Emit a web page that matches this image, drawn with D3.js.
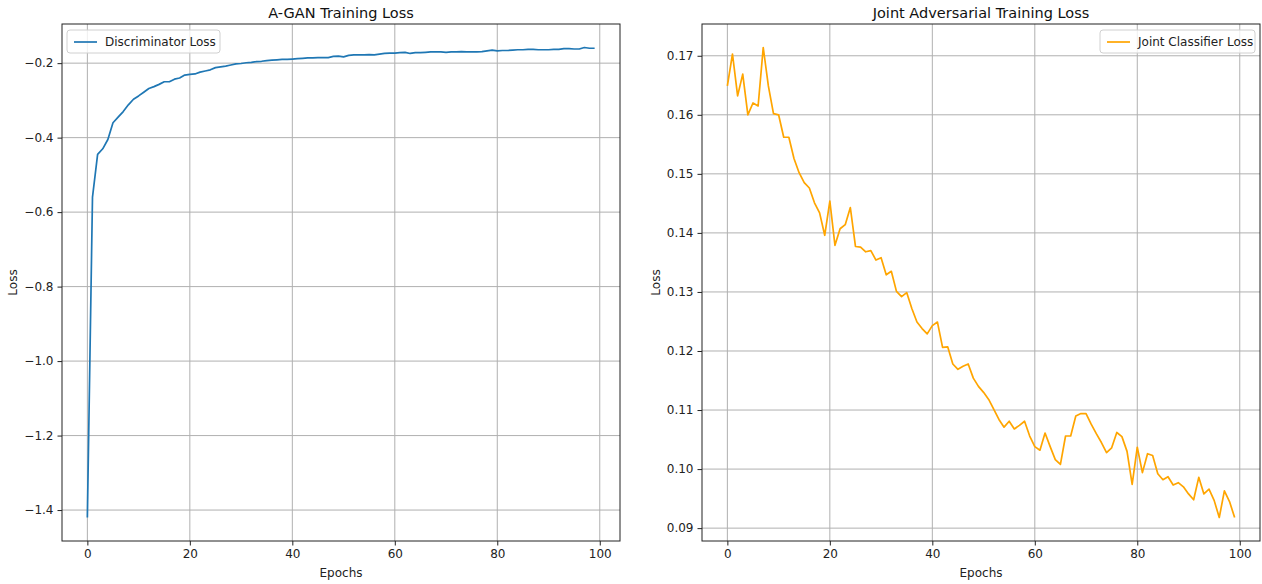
<!DOCTYPE html>
<html>
<head>
<meta charset="utf-8">
<script src="https://cdn.jsdelivr.net/npm/d3@7"></script>
<style>
  body { margin: 0; background: #fff; }
  svg { display: block; font-family: "DejaVu Sans", sans-serif; }
</style>
</head>
<body>
<svg id="chart" width="1262" height="584"></svg>
<script>
// ============================================================================
// data
// ============================================================================

const epochs = d3.range(100);

const discLoss = [
    -1.42, -0.56, -0.445, -0.43, -0.405, -0.36, -0.345, -0.33, -0.312, -0.297,
    -0.288, -0.278, -0.268, -0.263, -0.257, -0.25, -0.25, -0.243, -0.24, -0.232,
    -0.23, -0.229, -0.224, -0.221, -0.218, -0.212, -0.21, -0.208, -0.205, -0.202,
    -0.201, -0.199, -0.198, -0.196, -0.195, -0.193, -0.192, -0.191, -0.19, -0.19,
    -0.189, -0.188, -0.187, -0.186, -0.186, -0.185, -0.185, -0.185, -0.182, -0.181,
    -0.183, -0.179, -0.178, -0.178, -0.178, -0.177, -0.178, -0.176, -0.174, -0.173,
    -0.173, -0.172, -0.171, -0.174, -0.172, -0.172, -0.171, -0.17, -0.17, -0.17,
    -0.171, -0.17, -0.17, -0.169, -0.17, -0.17, -0.17, -0.169, -0.167, -0.165,
    -0.167, -0.166, -0.166, -0.165, -0.164, -0.164, -0.163, -0.163, -0.164, -0.164,
    -0.164, -0.163, -0.163, -0.161, -0.161, -0.162, -0.162, -0.158, -0.16, -0.16
];

const jointLoss = [
    0.1649, 0.1703, 0.1632, 0.1669, 0.1600, 0.1620, 0.1615, 0.1714, 0.1649, 0.1602,
    0.1600, 0.1562, 0.1562, 0.1526, 0.1502, 0.1485, 0.1476, 0.1451, 0.1434, 0.1396,
    0.1454, 0.1379, 0.1407, 0.1414, 0.1443, 0.1377, 0.1376, 0.1368, 0.1370, 0.1354,
    0.1358, 0.1329, 0.1335, 0.1301, 0.1292, 0.1299, 0.1272, 0.1249, 0.1238, 0.1229,
    0.1243, 0.1249, 0.1206, 0.1207, 0.1178, 0.1169, 0.1174, 0.1178, 0.1154, 0.1140,
    0.1130, 0.1118, 0.1101, 0.1084, 0.1071, 0.1081, 0.1068, 0.1074, 0.1081, 0.1056,
    0.1038, 0.1032, 0.1061, 0.1038, 0.1016, 0.1008, 0.1056, 0.1056, 0.1090, 0.1094,
    0.1094, 0.1076, 0.1060, 0.1045, 0.1028, 0.1036, 0.1062, 0.1055, 0.1030, 0.0974,
    0.1037, 0.0994, 0.1026, 0.1023, 0.0992, 0.0982, 0.0987, 0.0973, 0.0977, 0.0970,
    0.0958, 0.0948, 0.0986, 0.0958, 0.0966, 0.0947, 0.0918, 0.0963, 0.0945, 0.0918
];

const xTicks = [0, 20, 40, 60, 80, 100];
const discTicks = [-1.4, -1.2, -1.0, -0.8, -0.6, -0.4, -0.2];
const jointTicks = [0.09, 0.10, 0.11, 0.12, 0.13, 0.14, 0.15, 0.16, 0.17];

// ============================================================================
// drawing
// ============================================================================

const svg = d3.select("#chart");

function padded(ext) {
    const m = (ext[1] - ext[0]) * 0.05;
    return [ext[0] - m, ext[1] + m];
}

function drawPanel(o) {
    const x = d3.scaleLinear().domain(padded(d3.extent(epochs))).range([o.left, o.right]);
    const y = d3.scaleLinear().domain(padded(d3.extent(o.values))).range([o.bottom, o.top]);

    const g = svg.append("g");

    // grid
    g.append("g")
        .selectAll("line")
        .data(xTicks)
        .join("line")
        .attr("x1", d => x(d)).attr("x2", d => x(d))
        .attr("y1", o.top).attr("y2", o.bottom)
        .attr("stroke", "#b0b0b0").attr("stroke-width", 1);

    g.append("g")
        .selectAll("line")
        .data(o.ticks)
        .join("line")
        .attr("x1", o.left).attr("x2", o.right)
        .attr("y1", d => y(d)).attr("y2", d => y(d))
        .attr("stroke", "#b0b0b0").attr("stroke-width", 1);

    // axes
    const xAxis = g.append("g")
        .attr("transform", `translate(0,${o.bottom})`)
        .call(d3.axisBottom(x).tickValues(xTicks).tickSize(4.5).tickPadding(4).tickFormat(d3.format("d")));
    const yAxis = g.append("g")
        .attr("transform", `translate(${o.left},0)`)
        .call(d3.axisLeft(y).tickValues(o.ticks).tickSize(4.5).tickPadding(4).tickFormat(o.fmt));

    for (const ax of [xAxis, yAxis]) {
        ax.select(".domain").remove();
        ax.selectAll("line").attr("stroke", "#222");
        ax.selectAll("text")
            .attr("fill", "#222")
            .style("font-family", "DejaVu Sans")
            .style("font-size", "12px");
    }

    // line
    g.append("path")
        .datum(o.values)
        .attr("fill", "none")
        .attr("stroke", o.color)
        .attr("stroke-width", 1.7)
        .attr("stroke-linejoin", "round")
        .attr("d", d3.line().x((d, i) => x(epochs[i])).y(d => y(d)));

    // frame
    g.append("rect")
        .attr("x", o.left).attr("y", o.top)
        .attr("width", o.right - o.left).attr("height", o.bottom - o.top)
        .attr("fill", "none").attr("stroke", "#222").attr("stroke-width", 1);

    // titles
    g.append("text")
        .attr("x", (o.left + o.right) / 2).attr("y", 18)
        .attr("text-anchor", "middle")
        .style("font-size", "14.5px")
        .attr("fill", "#111")
        .text(o.title);

    g.append("text")
        .attr("x", (o.left + o.right) / 2).attr("y", 577)
        .attr("text-anchor", "middle")
        .style("font-size", "12px")
        .attr("fill", "#222")
        .text("Epochs");

    g.append("text")
        .attr("transform", `translate(${o.ylabelX},${(o.top + o.bottom) / 2}) rotate(-90)`)
        .attr("text-anchor", "middle")
        .style("font-size", "12px")
        .attr("fill", "#222")
        .text("Loss");

    // legend
    const lg = g.append("g").attr("transform", `translate(${o.legendX},${o.top + 6})`);
    const lw = o.legendW;
    lg.append("rect")
        .attr("width", lw).attr("height", 23)
        .attr("rx", 3)
        .attr("fill", "rgba(255,255,255,0.8)")
        .attr("stroke", "#d0d0d0");
    lg.append("line")
        .attr("x1", 7).attr("x2", 30).attr("y1", 12).attr("y2", 12)
        .attr("stroke", o.color).attr("stroke-width", 1.7);
    lg.append("text")
        .attr("x", 38).attr("y", 16)
        .style("font-size", "12px")
        .attr("fill", "#222")
        .text(o.label);
}

drawPanel({
    left: 62, right: 620, top: 24, bottom: 541,
    values: discLoss, ticks: discTicks, fmt: d3.format(".1f"),
    color: "#1f77b4", title: "A-GAN Training Loss", label: "Discriminator Loss",
    ylabelX: 17, legendX: 67, legendW: 153
});

drawPanel({
    left: 702, right: 1260, top: 24, bottom: 541,
    values: jointLoss, ticks: jointTicks, fmt: d3.format(".2f"),
    color: "#ffa500", title: "Joint Adversarial Training Loss", label: "Joint Classifier Loss",
    ylabelX: 660, legendX: 1100, legendW: 155
});
</script>
</body>
</html>
